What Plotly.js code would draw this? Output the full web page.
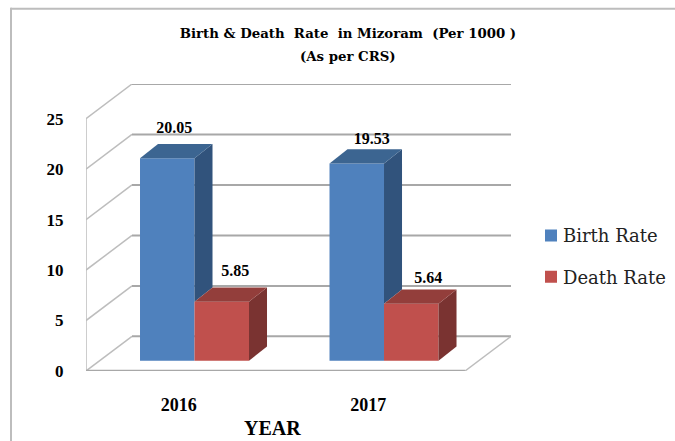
<!DOCTYPE html>
<html>
<head>
<meta charset="utf-8">
<script src="https://cdn.plot.ly/plotly-3.0.1.min.js"></script>
<style>html,body{margin:0;padding:0;background:#fff;overflow:hidden}</style>
</head>
<body>
<div id="chart" style="width:675px;height:441px"></div>
<script>
// Data
const years = ['2016', '2017'];
const birthRate = [20.05, 19.53];
const deathRate = [5.85, 5.64];
const yTicks = [0, 5, 10, 15, 20, 25];
const seriesNames = ['Birth Rate', 'Death Rate'];

// Depth geometry of the pseudo-3D frame (axis units)
const W = 675, H = 441;
const m = {l: 86, r: 164, t: 83.5, b: 70, autoexpand: false};
const xPos = years.map((_, i) => i);
const xMin = -0.5, xMaxFront = 1.5;
const wallDx = 0.2427, wallDy = 3.43;   // floor/wall depth
const barDx = 0.095, barDy = 1.41;      // bar depth
const barBase = 1.02;                   // bars stand inside the floor
const barW = 0.2876, barStart = -0.215;
const labelDx = {birth: [-0.01, 0.032], death: [0.024, 0.042]};
const labelDy = {birth: [1.5, 0.93], death: [1.55, 1.09]};

const colors = {
  birth: '#4F81BD', birthTop: '#3C6591', birthSide: '#31537C',
  death: '#C0504D', deathTop: '#933E3B', deathSide: '#7A3331'
};
const px = v => (v - m.l) / (W - m.l - m.r);
const py = v => 1 - (v - m.t) / (H - m.t - m.b);

function poly(xs, ys, color) {
  return {type: 'scatter', mode: 'lines', x: xs, y: ys, fill: 'toself', fillcolor: color,
    line: {width: 0, color: color}, showlegend: false, hoverinfo: 'skip', cliponaxis: false};
}

const traces = [];
traces.push({type: 'bar', name: seriesNames[0], x: xPos, y: birthRate, base: xPos.map(() => barBase),
  width: barW, offset: barStart, marker: {color: colors.birth, line: {width: 0}}, legendgroup: 'a'});
traces.push({type: 'bar', name: seriesNames[1], x: xPos, y: deathRate, base: xPos.map(() => barBase),
  width: barW, offset: barStart + barW, marker: {color: colors.death, line: {width: 0}}, legendgroup: 'b'});

xPos.forEach((x0, i) => {
  const b = birthRate[i] + barBase, d = deathRate[i] + barBase;
  const xa = x0 + barStart, xb = xa + barW, xc = xb + barW;
  // Birth bar: side down to the top of the death bar, then top
  traces.push(poly([xb, xb + barDx, xb + barDx, xb, xb], [b, b + barDy, d + barDy, d, b], colors.birthSide));
  traces.push(poly([xa, xa + barDx, xb + barDx, xb, xa], [b, b + barDy, b + barDy, b, b], colors.birthTop));
  // Death bar: side and top
  traces.push(poly([xc, xc + barDx, xc + barDx, xc, xc], [d, d + barDy, barBase + barDy, barBase, d], colors.deathSide));
  traces.push(poly([xb, xb + barDx, xc + barDx, xc, xb], [d, d + barDy, d + barDy, d, d], colors.deathTop));
});

// Value labels
const lblX = [], lblY = [], lblT = [];
xPos.forEach((x0, i) => {
  const xa = x0 + barStart;
  lblX.push(xa + barW / 2 + barDx / 2 + labelDx.birth[i]);
  lblY.push(birthRate[i] + barBase + barDy + labelDy.birth[i]);
  lblT.push(birthRate[i].toFixed(2));
  lblX.push(xa + 1.5 * barW + barDx / 2 + labelDx.death[i]);
  lblY.push(deathRate[i] + barBase + barDy + labelDy.death[i]);
  lblT.push(deathRate[i].toFixed(2));
});
traces.push({type: 'scatter', mode: 'text', x: lblX, y: lblY, text: lblT, textposition: 'middle center',
  textfont: {family: '"Liberation Serif", serif', size: 16, color: '#000', weight: 'bold'},
  showlegend: false, hoverinfo: 'skip', cliponaxis: false});

// Frame
const gridColor = '#A8A8A8', sideColor = '#BDBDBD';
const shapes = [];
const seg = (x0, y0, x1, y1, color, width) => shapes.push({type: 'line', layer: 'below', xref: 'x', yref: 'y',
  x0, y0, x1, y1, line: {color, width}});
yTicks.forEach(v => {
  seg(xMin, v, xMin + wallDx, v + wallDy, sideColor, 1.5);
  seg(xMin + wallDx, v + wallDy, xMaxFront + wallDx, v + wallDy, gridColor, 2);
});
seg(xMin, 0, xMin, yTicks[yTicks.length - 1], sideColor, 1.5);
seg(xMin, 0, xMaxFront, 0, gridColor, 2.5);
seg(xMaxFront, 0, xMaxFront + wallDx, wallDy, sideColor, 1.5);
// Outer picture border (top and left only)
shapes.push({type: 'line', layer: 'below', xref: 'paper', yref: 'paper', x0: px(10.5), x1: px(675), y0: py(8), y1: py(8), line: {color: '#BDBDBD', width: 2}});
shapes.push({type: 'line', layer: 'below', xref: 'paper', yref: 'paper', x0: px(11), x1: px(11), y0: py(7), y1: py(441), line: {color: '#BDBDBD', width: 2}});

const serifBold = size => ({family: '"Liberation Serif", serif', size, color: '#000', weight: 'bold'});
const titleFont = {family: '"DejaVu Serif", serif', size: 13.3, color: '#000', weight: 'bold'};
const layout = {
  width: W, height: H, margin: m, paper_bgcolor: '#fff', plot_bgcolor: 'rgba(0,0,0,0)',
  barmode: 'overlay', hovermode: false, dragmode: false,
  title: {text: 'Birth & Death  Rate  in Mizoram  (Per 1000 )', x: 348 / W, xanchor: 'center',
    y: 1 - 33 / H, yanchor: 'middle', font: titleFont},
  xaxis: {type: 'linear', range: [xMin, xMaxFront + wallDx], tickmode: 'array', tickvals: xPos.map(x => x - 0.01), ticktext: years,
    showgrid: false, zeroline: false, showline: false, ticks: 'outside', ticklen: 17, tickcolor: 'rgba(0,0,0,0)',
    tickfont: serifBold(18), fixedrange: true},
  yaxis: {range: [0, yTicks[yTicks.length - 1] + wallDy], tickmode: 'array', tickvals: yTicks,
    showgrid: false, zeroline: false, showline: false, ticks: 'outside', ticklen: 18, tickcolor: 'rgba(0,0,0,0)',
    tickfont: serifBold(17), fixedrange: true},
  legend: {x: px(523), xanchor: 'left', y: py(217), yanchor: 'top', traceorder: 'grouped', tracegroupgap: 15,
    font: {family: '"DejaVu Serif", serif', size: 18, color: '#222'}, bgcolor: 'rgba(0,0,0,0)'},
  shapes: shapes,
  annotations: [
    {text: '(As per CRS)', xref: 'paper', yref: 'paper', x: px(348), y: py(56), xanchor: 'center', yanchor: 'middle',
      showarrow: false, font: titleFont},
    {text: 'YEAR', xref: 'paper', yref: 'paper', x: px(272), y: py(428), xanchor: 'center', yanchor: 'middle',
      showarrow: false, font: serifBold(20)}
  ]
};

Plotly.newPlot('chart', traces, layout, {displayModeBar: false, staticPlot: true}).then(() => {
  // Native legend leaves a wide swatch/text gap; nudge the swatches toward the text
  document.querySelectorAll('#chart .legend .legendpoints').forEach(g => g.setAttribute('transform', 'translate(8,0)'));
});
</script>
</body>
</html>
